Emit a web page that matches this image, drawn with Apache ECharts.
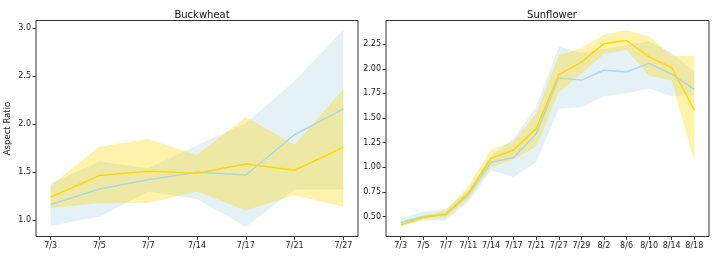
<!DOCTYPE html>
<html>
<head>
<meta charset="utf-8">
<script src="https://cdn.jsdelivr.net/npm/echarts@6/dist/echarts.min.js"></script>
<style>
  html, body { margin: 0; padding: 0; background: #fff; }
  #main { width: 721px; height: 259px; }
</style>
</head>
<body>
<div id="main"></div>
<script>
// Buckwheat
var buckCats = ['7/3', '7/5', '7/7', '7/14', '7/17', '7/21', '7/27'];
var buckGoldMean = [1.24, 1.465, 1.51, 1.49, 1.585, 1.52, 1.76];
var buckGoldLow = [1.125, 1.18, 1.18, 1.30, 1.10, 1.26, 1.14];
var buckGoldHigh = [1.36, 1.765, 1.845, 1.68, 2.075, 1.785, 2.37];
var buckBlueMean = [1.163, 1.325, 1.42, 1.50, 1.47, 1.89, 2.16];
var buckBlueLow = [0.94, 1.035, 1.30, 1.22, 0.93, 1.32, 1.32];
var buckBlueHigh = [1.385, 1.61, 1.54, 1.78, 2.01, 2.45, 2.985];
var buckTicks = [1.0, 1.5, 2.0, 2.5, 3.0];

// Sunflower
var sunCats = ['7/3', '7/5', '7/7', '7/11', '7/14', '7/17', '7/21', '7/27', '7/29', '8/2', '8/6', '8/10', '8/14', '8/18'];
var sunGoldMean = [0.415, 0.49, 0.525, 0.74, 1.09, 1.175, 1.395, 1.94, 2.067, 2.255, 2.287, 2.12, 2.01, 1.58];
var sunGoldLow = [0.40, 0.47, 0.49, 0.68, 1.00, 1.08, 1.21, 1.76, 1.95, 2.15, 2.19, 1.93, 1.88, 1.05];
var sunGoldHigh = [0.44, 0.51, 0.56, 0.81, 1.18, 1.26, 1.55, 2.14, 2.21, 2.345, 2.39, 2.33, 2.13, 2.13];
var sunBlueMean = [0.44, 0.50, 0.52, 0.72, 1.05, 1.10, 1.34, 1.905, 1.885, 1.985, 1.97, 2.055, 1.945, 1.79];
var sunBlueLow = [0.40, 0.46, 0.46, 0.65, 0.97, 0.90, 1.05, 1.595, 1.61, 1.72, 1.75, 1.80, 1.72, 1.73];
var sunBlueHigh = [0.48, 0.55, 0.58, 0.77, 1.12, 1.29, 1.62, 2.225, 2.16, 2.20, 2.24, 2.28, 2.16, 1.97];
var sunTicks = [0.5, 0.75, 1.0, 1.25, 1.5, 1.75, 2.0, 2.25];

var GOLD = '#FFD700';
var BLUE = '#ADD8E6';
var FONT = 'DejaVu Sans';

function idx(arr) {
    return arr.map(function (_, i) { return i; });
}

function pairs(vals) {
    return vals.map(function (v, i) { return [i, v]; });
}

// band between low and high as a single polygon
function band(gi, low, high, color) {
    return {
        type: 'custom',
        xAxisIndex: gi,
        yAxisIndex: gi,
        silent: true,
        data: [[0, low[0]]],
        renderItem: function (params, api) {
            var pts = [];
            for (var i = 0; i < high.length; i++) pts.push(api.coord([i, high[i]]));
            for (var j = low.length - 1; j >= 0; j--) pts.push(api.coord([j, low[j]]));
            return {
                type: 'polygon',
                shape: { points: pts },
                style: { fill: color, opacity: 0.33 }
            };
        }
    };
}

function line(gi, vals, color) {
    return {
        type: 'line',
        xAxisIndex: gi,
        yAxisIndex: gi,
        data: pairs(vals),
        symbol: 'none',
        silent: true,
        lineStyle: { color: color, width: 1.5 }
    };
}

function xAxis(gi, cats) {
    var pad = (cats.length - 1) * 0.05;
    return {
        type: 'value',
        gridIndex: gi,
        min: -pad,
        max: cats.length - 1 + pad,
        splitLine: { show: false },
        axisLine: { show: false, onZero: false },
        axisTick: { show: true, length: 3.5, lineStyle: { color: '#333' }, customValues: idx(cats) },
        axisLabel: {
            customValues: idx(cats),
            color: '#222', fontSize: 8, fontFamily: FONT, margin: 5,
            formatter: function (v) { return cats[Math.round(v)]; }
        }
    };
}

function yAxis(gi, ticks, min, max, digits, name) {
    return {
        type: 'value',
        gridIndex: gi,
        min: min,
        max: max,
        name: name || '',
        nameLocation: 'middle',
        nameGap: 24,
        nameTextStyle: { color: '#222', fontSize: 8.5, fontFamily: FONT },
        splitLine: { show: false },
        axisLine: { show: false, onZero: false },
        axisTick: { show: true, length: 3.5, lineStyle: { color: '#333' }, customValues: ticks },
        axisLabel: {
            customValues: ticks,
            color: '#222', fontSize: 8, fontFamily: FONT, margin: 5,
            formatter: function (v) { return v.toFixed(digits); }
        }
    };
}

var myChart = echarts.init(document.getElementById('main'), null, { renderer: 'canvas' });
myChart.setOption({
    animation: false,
    backgroundColor: '#fff',
    title: [
        { text: 'Buckwheat', left: 197, top: 5, textAlign: 'center',
          textStyle: { fontSize: 10, fontWeight: 'normal', color: '#111', fontFamily: FONT } },
        { text: 'Sunflower', left: 547, top: 5, textAlign: 'center',
          textStyle: { fontSize: 10, fontWeight: 'normal', color: '#111', fontFamily: FONT } }
    ],
    grid: [
        { left: 36, top: 20.5, right: 363, bottom: 22.5, show: true, borderColor: '#333', borderWidth: 1, backgroundColor: 'transparent' },
        { left: 386, top: 20.5, right: 12, bottom: 22.5, show: true, borderColor: '#333', borderWidth: 1, backgroundColor: 'transparent' }
    ],
    xAxis: [xAxis(0, buckCats), xAxis(1, sunCats)],
    yAxis: [
        yAxis(0, buckTicks, 0.83, 3.08, 1, 'Aspect Ratio'),
        yAxis(1, sunTicks, 0.297, 2.49, 2)
    ],
    series: [
        band(0, buckBlueLow, buckBlueHigh, BLUE),
        line(0, buckBlueMean, BLUE),
        band(0, buckGoldLow, buckGoldHigh, GOLD),
        line(0, buckGoldMean, GOLD),
        band(1, sunBlueLow, sunBlueHigh, BLUE),
        line(1, sunBlueMean, BLUE),
        band(1, sunGoldLow, sunGoldHigh, GOLD),
        line(1, sunGoldMean, GOLD)
    ]
});
</script>
</body>
</html>
